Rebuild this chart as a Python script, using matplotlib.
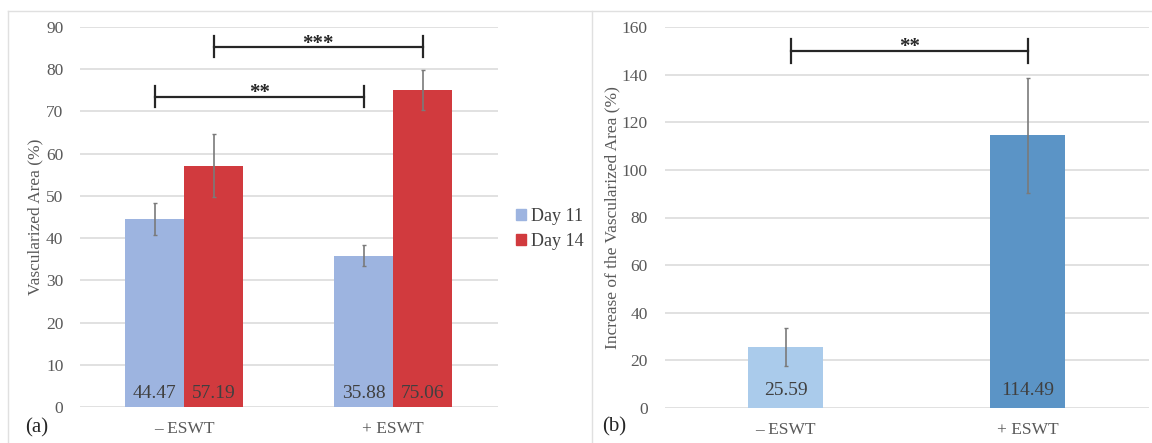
import matplotlib
matplotlib.use("Agg")
import matplotlib.pyplot as plt
from matplotlib.lines import Line2D
from matplotlib.patches import Patch
import numpy as np

# ---- data ----
categories = ["– ESWT", "+ ESWT"]
day11 = [44.47, 35.88]
day11_err = [3.8, 2.4]
day14 = [57.19, 75.06]
day14_err = [7.4, 4.7]
series_names = ["Day 11", "Day 14"]
increase = [25.59, 114.49]
increase_err = [8.0, 24.0]
yticks_a = [0, 10, 20, 30, 40, 50, 60, 70, 80, 90]
yticks_b = [0, 20, 40, 60, 80, 100, 120, 140, 160]
sig_a = [("**", 0, 1, "day11", 73.5), ("***", 0, 1, "day14", 85.3)]
sig_b = [("**", 0, 1, 150.0)]

plt.rcParams["font.family"] = ["Liberation Serif", "DejaVu Serif"]

W, H = 1152, 443
fig = plt.figure(figsize=(W / 100, H / 100), dpi=100)

def fx(px):
    return px / W

def fy(py):
    return 1 - py / H

c_blue = "#9db4e0"
c_red = "#d13a3e"
c_lblue = "#aacbeb"
c_dblue = "#5b94c6"
grid_c = "#dcdcdc"
tick_c = "#595959"
err_c = "#7a7a7a"
val_c = "#404040"
star_c = "#262626"

# ---- panel (a) ----
axa = fig.add_axes([fx(80), fy(407), fx(497.6) - fx(80), fy(27) - fy(407)])
x = np.arange(len(categories))
bw = 0.283
xa11 = x - bw / 2
xa14 = x + bw / 2
axa.bar(xa11, day11, width=bw, color=c_blue, zorder=2)
axa.bar(xa14, day14, width=bw, color=c_red, zorder=2)
axa.errorbar(xa11, day11, yerr=day11_err, fmt="none", ecolor=err_c, elinewidth=1.2, capsize=1.5, zorder=3)
axa.errorbar(xa14, day14, yerr=day14_err, fmt="none", ecolor=err_c, elinewidth=1.2, capsize=1.5, zorder=3)
for xi, v in zip(xa11, day11):
    axa.text(xi, 3.3, f"{v:.2f}", ha="center", va="center", fontsize=14, color=val_c, zorder=4)
for xi, v in zip(xa14, day14):
    axa.text(xi, 3.3, f"{v:.2f}", ha="center", va="center", fontsize=14, color=val_c, zorder=4)
axa.set_xlim(-0.5, 1.5)
axa.set_ylim(0, 90)
axa.set_yticks(yticks_a)
axa.set_xticks(x)
axa.set_xticklabels(categories)
axa.set_ylabel("Vascularized Area (%)", fontsize=12.5, color=tick_c, labelpad=1.5)

pos_map = {"day11": xa11, "day14": xa14}
for label, i, j, key, yv in sig_a:
    xs = pos_map[key]
    x1, x2 = xs[i], xs[j]
    axa.plot([x1, x2], [yv, yv], color=star_c, lw=1.6, zorder=5)
    axa.plot([x1, x1], [yv - 2.5, yv + 2.5], color=star_c, lw=1.6, zorder=5)
    axa.plot([x2, x2], [yv - 2.5, yv + 2.5], color=star_c, lw=1.6, zorder=5)
    axa.text((x1 + x2) / 2, yv - 0.4, label, ha="center", va="baseline", fontsize=15, fontweight="bold", color=star_c, zorder=5)

# ---- panel (b) ----
axb = fig.add_axes([fx(664.6), fy(408), fx(1149) - fx(664.6), fy(27) - fy(408)])
bwb = 0.31
axb.bar(x, increase, width=bwb, color=[c_lblue, c_dblue], zorder=2)
axb.errorbar(x, increase, yerr=increase_err, fmt="none", ecolor=err_c, elinewidth=1.2, capsize=1.5, zorder=3)
for xi, v in zip(x, increase):
    axb.text(xi, 7.5, f"{v:.2f}", ha="center", va="center", fontsize=14, color=val_c, zorder=4)
axb.set_xlim(-0.5, 1.5)
axb.set_ylim(0, 160)
axb.set_yticks(yticks_b)
axb.set_xticks(x)
axb.set_xticklabels(categories)
axb.set_ylabel("Increase of the Vascularized Area (%)", fontsize=12.5, color=tick_c, labelpad=1)
for label, i, j, yv in sig_b:
    x1, x2 = x[i] + 0.02, x[j]
    axb.plot([x1, x2], [yv, yv], color=star_c, lw=1.6, zorder=5)
    axb.plot([x1, x1], [yv - 5, yv + 5], color=star_c, lw=1.6, zorder=5)
    axb.plot([x2, x2], [yv - 5, yv + 5], color=star_c, lw=1.6, zorder=5)
    axb.text((x1 + x2) / 2, yv - 0.6, label, ha="center", va="baseline", fontsize=15, fontweight="bold", color=star_c, zorder=5)

for ax in (axa, axb):
    for s in ax.spines.values():
        s.set_visible(False)
    ax.yaxis.grid(True, color=grid_c, lw=1.2, zorder=0)
    ax.set_axisbelow(True)
    ax.tick_params(axis="both", length=0, labelsize=12.5, colors=tick_c)
    ax.tick_params(axis="y", pad=12)
    ax.tick_params(axis="x", pad=10)

# legend
handles = [Patch(color=c_blue), Patch(color=c_red)]
fig.legend(handles, series_names, loc="center left", bbox_to_anchor=(fx(516), fy(229)),
           frameon=False, fontsize=13, handlelength=0.55, handleheight=0.55,
           handletextpad=0.3, labelspacing=0.45, labelcolor="#404040",
           borderpad=0, borderaxespad=0)

# panel labels
fig.text(fx(25), fy(428), "(a)", fontsize=15, color=star_c, ha="left", va="center")
fig.text(fx(602), fy(427), "(b)", fontsize=15, color=star_c, ha="left", va="center")

# panel frames
fc = "#e0e0e0"
fig.add_artist(Line2D([fx(8), fx(8)], [fy(11), 0], color=fc, lw=1, transform=fig.transFigure))
fig.add_artist(Line2D([fx(8), 1], [fy(11), fy(11)], color=fc, lw=1, transform=fig.transFigure))
fig.add_artist(Line2D([fx(592), fx(592)], [fy(11), 0], color=fc, lw=1, transform=fig.transFigure))

fig.savefig("out.png", dpi=100)
